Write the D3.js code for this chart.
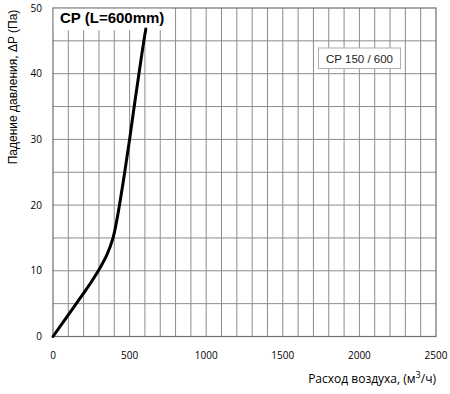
<!DOCTYPE html>
<html>
<head>
<meta charset="utf-8">
<script src="https://cdnjs.cloudflare.com/ajax/libs/d3/7.8.5/d3.min.js"></script>
<style>
  body { margin: 0; background: #fff; }
</style>
</head>
<body>
<script>
// curve: flow (m3/h) vs pressure drop (Pa)
var flow = [0, 100, 200, 250, 296, 353, 392, 415, 434, 468, 500, 530, 561, 593, 606]
var dp   = [0, 3.3, 6.6, 8.3, 10, 12.5, 15, 17.5, 20, 25, 30, 35, 40, 45, 46.8]
var xTicks = [0, 500, 1000, 1500, 2000, 2500]
var yTicks = [0, 10, 20, 30, 40, 50]
var title = "CP (L=600mm)"
var legendLabel = "CP 150 / 600"

var width = 450, height = 394
// plot box (not "top" - that name is taken by window.top)
var pLeft = 53, pRight = 436, pTop = 8, pBottom = 336.5

var x = d3.scaleLinear().domain([0, 2500]).range([pLeft, pRight])
var y = d3.scaleLinear().domain([0, 50]).range([pBottom, pTop])

var svg = d3.select("body").append("svg")
    .attr("width", width)
    .attr("height", height)

// grid
var grid = svg.append("g").attr("stroke", "#8c8c8c").attr("stroke-width", 1)
grid.selectAll(".vx")
    .data(d3.range(100, 2500, 100))
    .join("line")
    .attr("class", "vx")
    .attr("x1", d => x(d)).attr("x2", d => x(d))
    .attr("y1", pTop).attr("y2", pBottom)
grid.selectAll(".hy")
    .data(d3.range(5, 50, 5))
    .join("line")
    .attr("class", "hy")
    .attr("x1", pLeft).attr("x2", pRight)
    .attr("y1", d => y(d)).attr("y2", d => y(d))

// frame
svg.append("rect")
    .attr("x", pLeft).attr("y", pTop)
    .attr("width", pRight - pLeft).attr("height", pBottom - pTop)
    .attr("fill", "none").attr("stroke", "#6e6e6e").attr("stroke-width", 1.2)

// title box hides the grid behind it
svg.append("rect")
    .attr("x", pLeft + 0.8).attr("y", pTop + 0.8)
    .attr("width", 117).attr("height", 21.5)
    .attr("fill", "#fff")
svg.append("text")
    .attr("x", 60).attr("y", 23)
    .attr("font-family", "Liberation Sans, Arial, sans-serif")
    .attr("font-weight", "bold")
    .attr("font-size", 15)
    .attr("fill", "#000")
    .text(title)

// curve
var pts = flow.map((f, i) => [f, dp[i]])
svg.append("path")
    .datum(pts)
    .attr("fill", "none")
    .attr("stroke", "#000")
    .attr("stroke-width", 3)
    .attr("stroke-linecap", "round")
    .attr("d", d3.line().x(d => x(d[0])).y(d => y(d[1])).curve(d3.curveCatmullRom.alpha(0.5)))

// legend box
svg.append("rect")
    .attr("x", 318.5).attr("y", 48)
    .attr("width", 82).attr("height", 20.5)
    .attr("fill", "#fff").attr("stroke", "#b0b0b0").attr("stroke-width", 1)
svg.append("text")
    .attr("x", 359.5).attr("y", 62.5)
    .attr("text-anchor", "middle")
    .attr("font-family", "Liberation Sans, Arial, sans-serif")
    .attr("font-size", 11.5)
    .attr("fill", "#222")
    .text(legendLabel)

// tick labels
svg.append("g")
    .attr("font-family", "Open Sans, sans-serif")
    .attr("font-size", 10)
    .attr("text-anchor", "middle")
    .selectAll("text")
    .data(xTicks)
    .join("text")
    .attr("x", d => x(d))
    .attr("y", 359)
    .text(d => d)

svg.append("g")
    .attr("font-family", "Open Sans, sans-serif")
    .attr("font-size", 10)
    .attr("text-anchor", "end")
    .selectAll("text")
    .data(yTicks)
    .join("text")
    .attr("x", 42)
    .attr("y", d => y(d) + 3.5)
    .text(d => d)

// axis titles
var xt = svg.append("text")
    .attr("x", pRight).attr("y", 383)
    .attr("text-anchor", "end")
    .attr("font-family", "Open Sans, sans-serif")
    .attr("font-size", 12)
    .attr("fill", "#000")
xt.append("tspan").text("Расход воздуха, (м")
xt.append("tspan").attr("dy", -5).attr("font-size", 9).text("3")
xt.append("tspan").attr("dy", 5).text("/ч)")

svg.append("text")
    .attr("transform", "translate(17,87) rotate(-90)")
    .attr("text-anchor", "middle")
    .attr("font-family", "Liberation Sans, Arial, sans-serif")
    .attr("font-size", 12)
    .attr("fill", "#000")
    .text("Падение давления, ΔP (Па)")
</script>
</body>
</html>
